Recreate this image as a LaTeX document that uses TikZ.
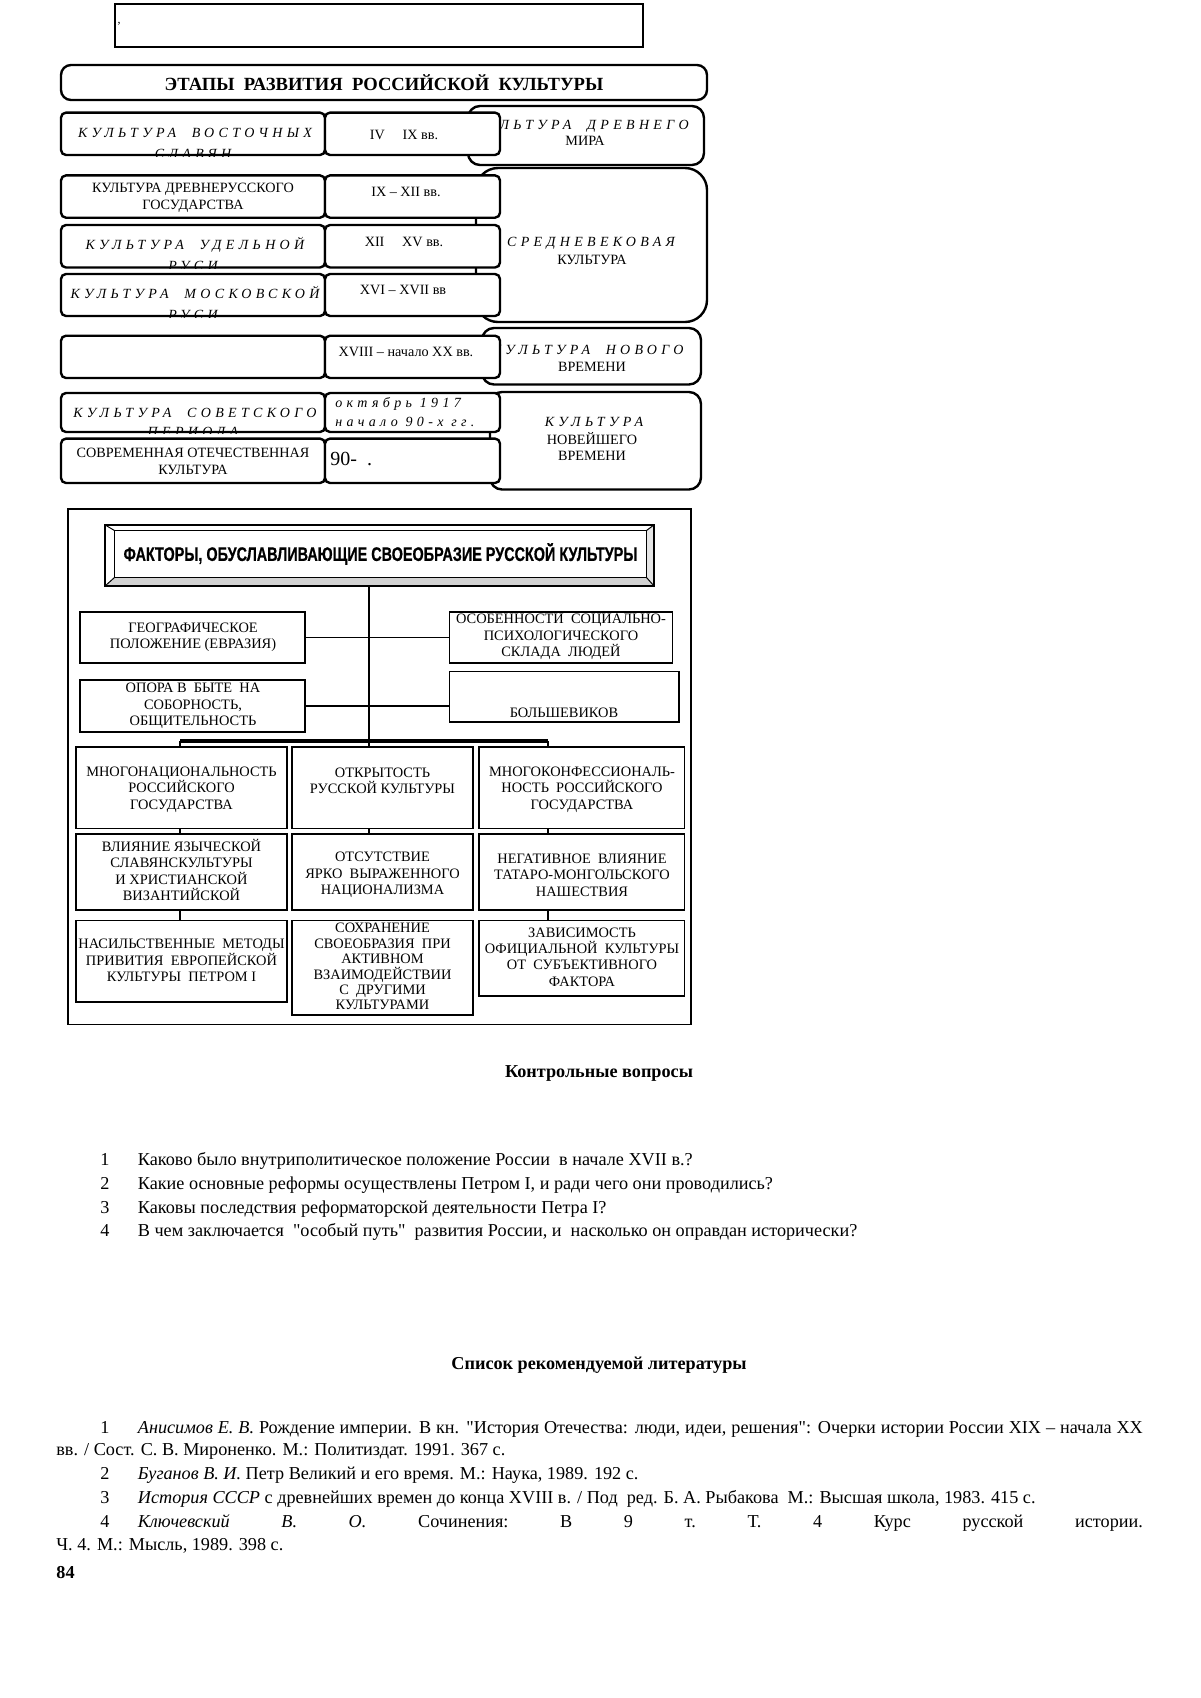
\documentclass[tikz,border=0pt]{standalone}
\usepackage{fontspec}
\setmainfont{Liberation Serif}[Ligatures=TeXOff]
\newfontfamily\condsans{Liberation Sans}[FakeStretch=0.735, FakeBold=0.6]
\newfontfamily\spit{Liberation Serif}[LetterSpace=31]
\usetikzlibrary{fit}
\tikzset{
  thinbox/.style={draw, line width=0.9pt, inner sep=0pt},
  rbox/.style={draw, line width=1.2pt, rounded corners=2.5pt, fill=white, inner sep=0pt},
  bigbox/.style={draw, line width=1.2pt, rounded corners=6pt, fill=white, inner sep=0pt},
  fbox/.style={draw, line width=0.7pt, fill=white, inner sep=0pt},
  sm/.style={font=\fontsize{7.1}{8.6}\selectfont, inner sep=0pt},
  smit/.style={font=\spit\itshape\fontsize{7}{8.6}\selectfont, inner sep=0pt},
  ft/.style={font=\fontsize{7.2}{8.2}\selectfont, align=center, inner sep=0pt},
  body/.style={font=\fontsize{9.1}{11}\selectfont, inner sep=0pt, anchor=base west},
  num/.style={font=\fontsize{9.1}{11}\selectfont, inner sep=0pt, anchor=base},
  head/.style={font=\fontsize{9.1}{11}\selectfont\bfseries, inner sep=0pt, anchor=base},
  conn/.style={line width=0.6pt},
}
\begin{document}
\begin{tikzpicture}[x=0.5pt,y=-0.5pt]
\useasboundingbox[fill=white] (0,0) rectangle (1200,1698);

% ---------- top empty box ----------
\node[thinbox, fit={(115,4) (643,47)}] (topbox) {};
\node[inner sep=0pt, font=\fontsize{6}{6}\selectfont, anchor=base] (mark) at (119,23) {,};

% ---------- title ----------
\node[rbox, rounded corners=5pt, fit={(61,65) (707,100)}] (title) {};
\node[font=\fontsize{9.3}{11}\selectfont\bfseries, inner sep=0pt] (titletxt) at (title.center) {ЭТАПЫ\ \ РАЗВИТИЯ\ \ РОССИЙСКОЙ\ \ КУЛЬТУРЫ};

% ---------- right boxes (behind) ----------
\node[bigbox, fit={(468,106) (704,165)}] (R1) {};
\node[smit, anchor=base east] (R1a) at (689,129) {КУЛЬТУРА\ \ ДРЕВНЕГО};
\node[sm, anchor=base] (R1b) at (585,145.5) {МИРА};

\node[bigbox, rounded corners=11pt, fit={(476,168) (707,322)}] (R2) {};
\node[smit, anchor=base] (R2a) at (591,246) {СРЕДНЕВЕКОВАЯ};
\node[sm, anchor=base] (R2b) at (592,264.5) {КУЛЬТУРА};

\node[bigbox, fit={(482,328) (701,384.5)}] (R3) {};
\node[smit, anchor=base east] (R3a) at (684,354.5) {КУЛЬТУРА\ \ НОВОГО};
\node[sm, anchor=base] (R3b) at (592,371.5) {ВРЕМЕНИ};

\node[bigbox, fit={(490,392) (701,489.5)}] (R4) {};
\node[smit, anchor=base] (R4a) at (594,426.5) {КУЛЬТУРА};
\node[sm, anchor=base] (R4b) at (592,444.5) {НОВЕЙШЕГО};
\node[sm, anchor=base] (R4c) at (592,460.5) {ВРЕМЕНИ};

% ---------- rows ----------
% row 1
\node[rbox, fit={(61,112.6) (325,155)}] (L1) {};
\node[rbox, fit={(325,112.6) (500,155)}] (M1) {};
\begin{scope}
\clip (L1.south west) rectangle (L1.north east);
\node[smit, anchor=base] (L1a) at (195,137.5) {КУЛЬТУРА\ \ ВОСТОЧНЫХ};
\node[smit, anchor=base] (L1b) at (193,158.5) {СЛАВЯН};
\end{scope}
\node[sm, anchor=base] (M1a) at (404,139.5) {IV\quad\ IX вв.};

% row 2
\node[rbox, fit={(61,175.4) (325,217.7)}] (L2) {};
\node[rbox, fit={(325,175.4) (500,217.7)}] (M2) {};
\node[sm, anchor=base] (L2a) at (193,192) {КУЛЬТУРА ДРЕВНЕРУССКОГО};
\node[sm, anchor=base] (L2b) at (193,209) {ГОСУДАРСТВА};
\node[sm, anchor=base] (M2a) at (406,196) {IX – XII вв.};

% row 3
\node[rbox, fit={(61,225) (325,267.5)}] (L3) {};
\node[rbox, fit={(325,225) (500,267.5)}] (M3) {};
\begin{scope}
\clip (L3.south west) rectangle (L3.north east);
\node[smit, anchor=base] (L3a) at (195,249.5) {КУЛЬТУРА\ \ УДЕЛЬНОЙ};
\node[smit, anchor=base] (L3b) at (193,270.5) {РУСИ};
\end{scope}
\node[sm, anchor=base] (M3a) at (404,246) {XII\quad\ XV вв.};

% row 4
\node[rbox, fit={(61,274) (325,316)}] (L4) {};
\node[rbox, fit={(325,274) (500,316)}] (M4) {};
\begin{scope}
\clip (L4.south west) rectangle (L4.north east);
\node[smit, anchor=base] (L4a) at (195,298) {КУЛЬТУРА\ \ МОСКОВСКОЙ};
\node[smit, anchor=base] (L4b) at (193,319) {РУСИ};
\end{scope}
\node[sm, anchor=base] (M4a) at (403,294.5) {XVI – XVII вв};

% row 5
\node[rbox, fit={(61,335.7) (325,378)}] (L5) {};
\node[rbox, fit={(325,335.7) (500,378)}] (M5) {};
\node[sm, anchor=base] (M5a) at (406,356.5) {XVIII – начало XX вв.};

% row 6
\node[rbox, fit={(61,393) (325,432)}] (L6) {};
\node[rbox, fit={(325,393) (500,432)}] (M6) {};
\begin{scope}
\clip (L6.south west) rectangle (L6.north east);
\node[smit, anchor=base] (L6a) at (195,417) {КУЛЬТУРА\ \ СОВЕТСКОГО};
\node[smit, anchor=base] (L6b) at (193,436) {ПЕРИОДА};
\end{scope}
\node[smit, anchor=base west] (M6a) at (335,407.5) {октябрь 1917};
\node[smit, anchor=base west] (M6b) at (335,426.5) {начало 90-х гг.};

% row 7
\node[rbox, fit={(61,438.6) (325,483)}] (L7) {};
\node[rbox, fit={(325,438.6) (500,483)}] (M7) {};
\node[sm, anchor=base] (L7a) at (193,457) {СОВРЕМЕННАЯ ОТЕЧЕСТВЕННАЯ};
\node[sm, anchor=base] (L7b) at (193,474.5) {КУЛЬТУРА};
\node[font=\fontsize{10}{12}\selectfont, inner sep=0pt, anchor=base west] (M7a) at (330,465.5) {90-\ \ .};

% ---------- factors frame ----------
\node[draw, line width=0.9pt, inner sep=0pt, fit={(68,509) (691,1024.5)}] (frame) {};

% bevel title
\path node[inner sep=0pt, fit={(105,525) (654,586)}] (bevo) {};
\path node[inner sep=0pt, fit={(115,531) (646,577)}] (bevi) {};
\fill[gray!35] (bevo.south west) -- (bevi.south west) -- (bevi.south east) -- (bevo.south east) -- cycle;
\fill[gray!20] (bevo.south east) -- (bevi.south east) -- (bevi.north east) -- (bevo.north east) -- cycle;
\draw[line width=1pt] (bevo.south west) rectangle (bevo.north east);
\draw[line width=0.7pt] (bevi.south west) rectangle (bevi.north east);
\draw[line width=0.5pt] (bevo.north west) -- (bevi.north west);
\draw[line width=0.5pt] (bevo.north east) -- (bevi.north east);
\draw[line width=0.5pt] (bevo.south west) -- (bevi.south west);
\draw[line width=0.5pt] (bevo.south east) -- (bevi.south east);
\node[font=\condsans\bfseries\fontsize{9.8}{11}\selectfont, inner sep=0pt] (bevtxt) at (bevi.center) {ФАКТОРЫ, ОБУСЛАВЛИВАЮЩИЕ СВОЕОБРАЗИЕ РУССКОЙ КУЛЬТУРЫ};

% side boxes
\node[fbox, fit={(80,612) (305,663)}] (FL1) {};
\node[ft] (FL1t) at (193,637.5) {ГЕОГРАФИЧЕСКОЕ\\ПОЛОЖЕНИЕ (ЕВРАЗИЯ)};
\node[fbox, fit={(449.5,612) (672.5,663)}] (FR1) {};
\node[ft] (FR1t) at (561,637) {ОСОБЕННОСТИ\ \ СОЦИАЛЬНО-\\ПСИХОЛОГИЧЕСКОГО\\СКЛАДА\ \ ЛЮДЕЙ};
\node[fbox, fit={(80,680) (305,732)}] (FL2) {};
\node[ft] (FL2t) at (193,706) {ОПОРА В\ \ БЫТЕ\ \ НА\\СОБОРНОСТЬ,\\ОБЩИТЕЛЬНОСТЬ};
\node[fbox, fit={(449.5,671.5) (679,722)}] (FR2) {};
\node[ft] (FR2t) at (564,712.6) {БОЛЬШЕВИКОВ};

% connectors (upper)
\coordinate (mbot) at (369,741);
\coordinate (mtop) at (mbot |- bevo.south);
\coordinate (barL) at (180,741);
\coordinate (barR) at (548,741);
\draw[conn] (mtop) -- (mbot);
\draw[conn] (FL1.east) -- (FL1.east -| FR1.west);
\draw[line width=1.3pt] (FL2.east) -- (FL2.east -| FR2.west);
\draw[line width=2.2pt] (barL) -- (barR);

% row A
\node[fbox, fit={(76,747) (287,828.5)}] (AL) {};
\node[ft] (ALt) at (181.5,789.5) {МНОГОНАЦИОНАЛЬНОСТЬ\\РОССИЙСКОГО\\ГОСУДАРСТВА};
\node[fbox, fit={(292,747) (473,828.5)}] (AM) {};
\node[ft] (AMt) at (382.5,781) {ОТКРЫТОСТЬ\\РУССКОЙ КУЛЬТУРЫ};
\node[fbox, fit={(479,747) (684.5,828.5)}] (AR) {};
\node[ft] (ARt) at (582,789.5) {МНОГОКОНФЕССИОНАЛЬ-\\НОСТЬ\ \ РОССИЙСКОГО\\ГОСУДАРСТВА};

% row B
\node[fbox, fit={(76,834) (287,910)}] (BL) {};
\node[ft] (BLt) at (181.5,870) {ВЛИЯНИЕ ЯЗЫЧЕСКОЙ\\СЛАВЯНСКУЛЬТУРЫ\\И ХРИСТИАНСКОЙ\\ВИЗАНТИЙСКОЙ};
\node[fbox, fit={(292,834) (473,910)}] (BM) {};
\node[ft] (BMt) at (382.5,875) {ОТСУТСТВИЕ\\ЯРКО\ \ ВЫРАЖЕННОГО\\НАЦИОНАЛИЗМА};
\node[fbox, fit={(479,834) (684.5,910)}] (BR) {};
\node[ft] (BRt) at (582,875) {НЕГАТИВНОЕ\ \ ВЛИЯНИЕ\\ТАТАРО-МОНГОЛЬСКОГО\\НАШЕСТВИЯ};

% row C
\node[fbox, fit={(76,920.5) (287,1002)}] (CL) {};
\node[ft] (CLt) at (181.5,960.6) {НАСИЛЬСТВЕННЫЕ\ \ МЕТОДЫ\\ПРИВИТИЯ\ \ ЕВРОПЕЙСКОЙ\\КУЛЬТУРЫ\ \ ПЕТРОМ I};
\node[fbox, fit={(292,920.5) (473,1015)}] (CM) {};
\node[ft, font=\fontsize{7.2}{7.7}\selectfont] (CMt) at (382.5,966.6) {СОХРАНЕНИЕ\\СВОЕОБРАЗИЯ\ \ ПРИ\\АКТИВНОМ\\ВЗАИМОДЕЙСТВИИ\\С\ \ ДРУГИМИ\\КУЛЬТУРАМИ};
\node[fbox, fit={(479,920.5) (684.5,996)}] (CR) {};
\node[ft] (CRt) at (582,957) {ЗАВИСИМОСТЬ\\ОФИЦИАЛЬНОЙ\ \ КУЛЬТУРЫ\\ОТ\ \ СУБЪЕКТИВНОГО\\ФАКТОРА};

% connectors (lower)
\draw[conn] (barL) -- (barL |- AL.north);
\draw[conn] (barR) -- (barR |- AR.north);
\draw[conn] (mbot) -- (mbot |- AM.north);
\draw[conn] (AL.south -| barL) -- (BL.north -| barL);
\draw[conn] (AM.south -| mbot) -- (BM.north -| mbot);
\draw[conn] (AR.south -| barR) -- (BR.north -| barR);
\draw[conn] (BL.south -| barL) -- (CL.north -| barL);
\draw[conn] (BR.south -| barR) -- (CR.north -| barR);

% ---------- text part ----------
\node[head] (hq) at (599,1077.5) {Контрольные вопросы};
\node[num] (q1n) at (105,1165.4) {1};
\node[body] (q1) at (137.5,1165.4) {Каково было внутриполитическое положение России\ \ в начале XVII в.?};
\node[num] (q2n) at (105,1189.2) {2};
\node[body] (q2) at (137.5,1189.2) {Какие основные реформы осуществлены Петром I, и ради чего они проводились?};
\node[num] (q3n) at (105,1213) {3};
\node[body] (q3) at (137.5,1213) {Каковы последствия реформаторской деятельности Петра I?};
\node[num] (q4n) at (105,1236.9) {4};
\node[body] (q4) at (137.5,1236.9) {В чем заключается\ \ "особый путь"\ \ развития России, и\ \ насколько он оправдан исторически?};

\node[head] (hl) at (599,1369) {Список рекомендуемой литературы};
\node[num] (r1n) at (105,1433) {1};
\node[body] (r1) at (137.5,1433) {\hbox to 502.5pt{\textit{Анисимов Е. В.} Рождение империи. В кн. "История Отечества: люди, идеи, решения": Очерки истории России XIX – начала XX}};
\node[body] (r1b) at (56,1455.6) {вв. / Сост. С. В. Мироненко. М.: Политиздат. 1991. 367 с.};
\node[num] (r2n) at (105,1479.5) {2};
\node[body] (r2) at (137.5,1479.5) {\textit{Буганов В. И.} Петр Великий и его время. М.: Наука, 1989. 192 с.};
\node[num] (r3n) at (105,1503.3) {3};
\node[body] (r3) at (137.5,1503.3) {\textit{История СССР} с древнейших времен до конца XVIII в. / Под\ \ ред. Б. А. Рыбакова\ \ М.: Высшая школа, 1983. 415 с.};
\node[num] (r4n) at (105,1527.1) {4};
\node[body] (r4) at (137.5,1527.1) {\hbox to 502.5pt{\textit{Ключевский}\hfil\textit{В.}\hfil\textit{О.}\hfil Сочинения:\hfil В\hfil 9\hfil т.\hfil Т.\hfil 4\hfil Курс\hfil русской\hfil истории.}};
\node[body] (r4b) at (56,1550.9) {Ч. 4. М.: Мысль, 1989. 398 с.};
\node[body, font=\fontsize{9.1}{11}\selectfont\bfseries] (pg) at (56,1578) {84};
\end{tikzpicture}
\end{document}
